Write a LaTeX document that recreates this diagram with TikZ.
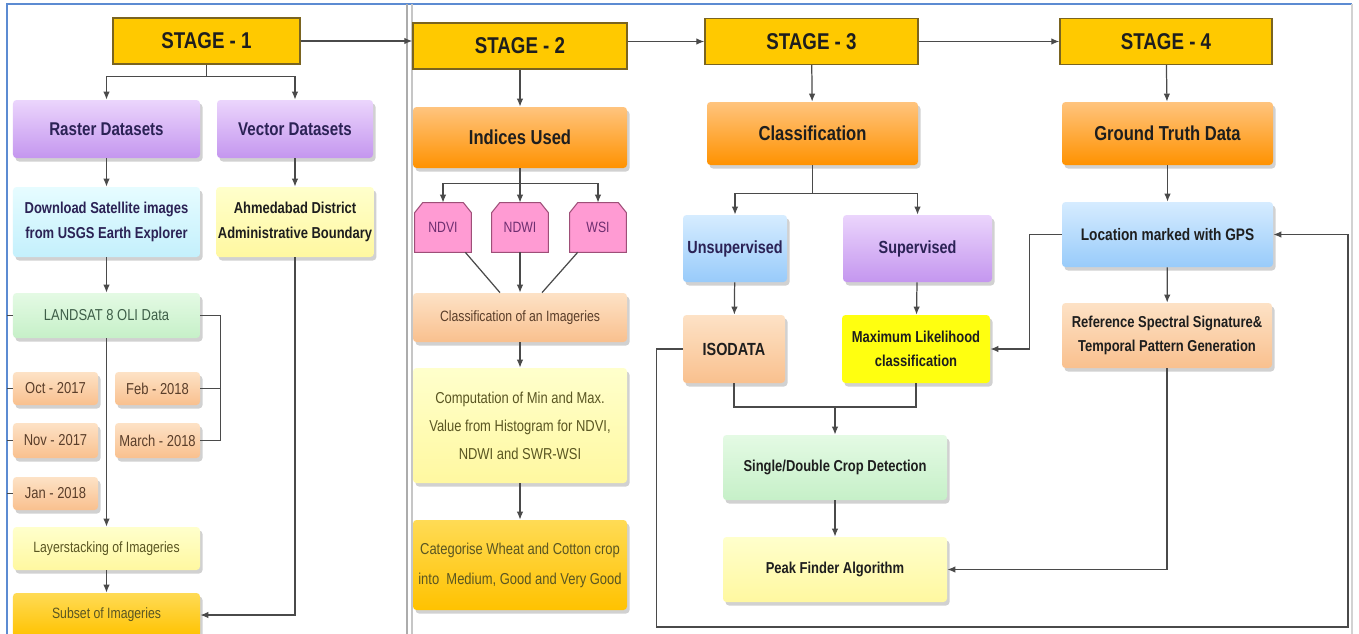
\documentclass[tikz,border=0pt]{standalone}
\usepackage{fontspec}
\setmainfont{Liberation Sans}[FakeStretch=0.82]
\usetikzlibrary{arrows.meta, calc, shadows, backgrounds}
\definecolor{stageGold}{HTML}{FFC900}
\definecolor{stageEdge}{HTML}{7A6420}
\definecolor{violetTop}{HTML}{EBD5FC}
\definecolor{violetBot}{HTML}{C496EF}
\definecolor{cyanTop}{HTML}{E6FCFF}
\definecolor{cyanBot}{HTML}{C4F0FC}
\definecolor{creamTop}{HTML}{FFFFCC}
\definecolor{creamBot}{HTML}{FFF8A0}
\definecolor{mintTop}{HTML}{E4FAE4}
\definecolor{mintBot}{HTML}{C6F0C8}
\definecolor{peachTop}{HTML}{FDE2C6}
\definecolor{peachBot}{HTML}{F9C08E}
\definecolor{orangeTop}{HTML}{FFC47E}
\definecolor{orangeBot}{HTML}{FF9200}
\definecolor{goldTop}{HTML}{FFDB55}
\definecolor{goldBot}{HTML}{FFC200}
\definecolor{skyTop}{HTML}{D6ECFF}
\definecolor{skyBot}{HTML}{98CBFA}
\definecolor{pinkFill}{HTML}{FF9BD3}
\definecolor{pinkEdge}{HTML}{9E4F78}
\definecolor{lemon}{HTML}{FFFF10}
\definecolor{inkDark}{HTML}{1E1E1E}
\definecolor{inkNavy}{HTML}{2B2255}
\definecolor{inkGreen}{HTML}{3E5E48}
\definecolor{inkBrown}{HTML}{5A3E2A}
\definecolor{inkOlive}{HTML}{5A5622}
\definecolor{inkPink}{HTML}{6E2E70}
\definecolor{frameBlue}{HTML}{5C8BD2}
\definecolor{wire}{HTML}{4A4A4A}

\begin{document}
\begin{tikzpicture}[x=0.2mm, y=-0.2mm,
    stagefont/.style={font=\fontsize{13}{15}\selectfont\bfseries},
    headfont/.style={font=\fontsize{11.5}{13.5}\selectfont\bfseries},
    boldtxt/.style={font=\fontsize{9}{14}\selectfont\bfseries},
    plaintxt/.style={font=\fontsize{8.5}{10.5}\selectfont},
    shade/.style={drop shadow={shadow xshift=0.5mm, shadow yshift=-0.7mm,
                  fill=black!45, opacity=0.4}},
    stagebox/.style={rectangle, draw=stageEdge, line width=0.8pt,
                     fill=stageGold, stagefont, text=inkDark,
                     minimum height=9.2mm},
    card/.style={rectangle, rounded corners=2pt, align=center,
                 inner sep=1pt, shade},
    violet/.style={card, top color=violetTop, bottom color=violetBot},
    cyan/.style={card, top color=cyanTop, bottom color=cyanBot},
    cream/.style={card, top color=creamTop, bottom color=creamBot},
    mint/.style={card, top color=mintTop, bottom color=mintBot},
    peach/.style={card, top color=peachTop, bottom color=peachBot},
    orange/.style={card, top color=orangeTop, bottom color=orangeBot,
                   headfont, text=inkDark},
    gold/.style={card, top color=goldTop, bottom color=goldBot},
    sky/.style={card, top color=skyTop, bottom color=skyBot},
    index/.style={rectangle, plaintxt, text=inkPink,
                  minimum width=11.2mm, minimum height=9.8mm, inner sep=1pt},
    indexshape/.style={draw=pinkEdge, fill=pinkFill, line width=0.6pt},
    conn/.style={draw=wire, line width=0.7pt},
    arr/.style={conn, -{Latex[length=1.6mm,width=1.3mm]}},
    ]

\useasboundingbox (0,0) rectangle (1359,633);
\clip (0,0) rectangle (1359,633);

% ------------------------------------------------------------------
% Frame and stage divider
% ------------------------------------------------------------------
\draw[frameBlue, line width=1pt] (7,640) -- (7,4) -- (1352,4);
\draw[gray!35, line width=0.8pt] (1352,4) -- (1352,640);
\draw[gray!65, line width=0.9pt] (407,4) -- (407,640);
\draw[gray!45, line width=0.6pt] (412,4) -- (412,640);
\coordinate (frameL) at (7,0);

% ------------------------------------------------------------------
% Stage 1
% ------------------------------------------------------------------
\node[stagebox, minimum width=37.4mm] (s1) at (206.5,41) {STAGE - 1};
\node[violet, font=\fontsize{10.5}{12.5}\selectfont\bfseries,
      text=inkNavy, minimum width=37.4mm, minimum height=11.6mm]
  (raster) at (106.5,129) {Raster Datasets};
\node[violet, font=\fontsize{10.5}{12.5}\selectfont\bfseries,
      text=inkNavy, minimum width=31.2mm, minimum height=11.6mm]
  (vector) at (295,129) {Vector Datasets};
\node[cyan, boldtxt, text=inkNavy, minimum width=37.4mm, minimum height=14mm]
  (download) at (106.5,222) {Download Satellite images\\from USGS Earth Explorer};
\node[cream, boldtxt, text=inkDark, minimum width=31.2mm, minimum height=14mm]
  (ahmed) at (295,222) {Ahmedabad District\\Administrative Boundary};
\node[mint, font=\fontsize{9}{11}\selectfont, text=inkGreen,
      minimum width=37.4mm, minimum height=9mm]
  (landsat) at (106.5,315.5) {LANDSAT 8 OLI Data};

% Months
\node[peach, font=\fontsize{9}{11}\selectfont, text=inkBrown,
      minimum width=17mm, minimum height=6.6mm] (oct) at (55.5,388.5) {Oct - 2017};
\node[peach, font=\fontsize{9}{11}\selectfont, text=inkBrown,
      minimum width=17mm, minimum height=6.6mm] (feb) at (157.5,388.5) {Feb - 2018};
\node[peach, font=\fontsize{9}{11}\selectfont, text=inkBrown,
      minimum width=17mm, minimum height=7mm] (nov) at (55.5,440.5) {Nov - 2017};
\node[peach, font=\fontsize{9}{11}\selectfont, text=inkBrown,
      minimum width=17mm, minimum height=7mm] (march) at (157.5,440.5) {March - 2018};
\node[peach, font=\fontsize{9}{11}\selectfont, text=inkBrown,
      minimum width=17mm, minimum height=6.6mm] (jan) at (55.5,493.5) {Jan - 2018};

\node[cream, plaintxt, text=inkOlive, minimum width=37.4mm, minimum height=8.6mm]
  (layer) at (106.5,548.5) {Layerstacking of Imageries};
\node[gold, plaintxt, text=inkOlive, minimum width=37.4mm, minimum height=8.8mm]
  (subset) at (106.5,615) {Subset of Imageries};

% ------------------------------------------------------------------
% Stage 2
% ------------------------------------------------------------------
\node[stagebox, minimum width=42.8mm] (s2) at (520,46) {STAGE - 2};
\node[orange, minimum width=42.8mm, minimum height=12.2mm]
  (indices) at (520,137.5) {Indices Used};
\node[index] (ndvi) at (443,227.5) {NDVI};
\node[index] (ndwi) at (520,227.5) {NDWI};
\node[index] (wsi) at (598,227.5) {WSI};
% index tags: chamfered top corners, drawn behind their labels
\begin{scope}[on background layer]
\fill[white] (0,0) rectangle (1359,633);
\foreach \n in {ndvi,ndwi,wsi}
  \draw[indexshape] (\n.south west) -- ($(\n.north west)+(0,10)$)
    -- ($(\n.north west)+(8,0)$) -- ($(\n.north east)+(-8,0)$)
    -- ($(\n.north east)+(0,10)$) -- (\n.south east) -- cycle;
\end{scope}
\node[peach, plaintxt, text=inkBrown, minimum width=42.8mm, minimum height=9.8mm]
  (clsimg) at (520,317.5) {Classification of an Imageries};
\node[cream, font=\fontsize{9}{16}\selectfont, text=inkOlive,
      minimum width=42.8mm, minimum height=23mm]
  (comput) at (520,425.5)
  {Computation of Min and Max.\\Value from Histogram for NDVI,\\NDWI and SWR-WSI};
\node[gold, font=\fontsize{9}{17}\selectfont, text=inkOlive,
      minimum width=42.8mm, minimum height=18mm]
  (categ) at (520,565)
  {Categorise Wheat and Cotton crop\\into\ \ Medium, Good and Very Good};

% ------------------------------------------------------------------
% Stage 3
% ------------------------------------------------------------------
\node[stagebox, minimum width=42.6mm] (s3) at (811.5,41.5) {STAGE - 3};
\node[orange, minimum width=42.2mm, minimum height=12.6mm]
  (classif) at (812.5,133.5) {Classification};
\node[sky, font=\fontsize{10}{12}\selectfont\bfseries, text=inkNavy,
      minimum width=20.8mm, minimum height=13.4mm]
  (unsup) at (735,248.5) {Unsupervised};
\node[violet, font=\fontsize{10}{12}\selectfont\bfseries, text=inkNavy,
      minimum width=29.8mm, minimum height=13.4mm]
  (sup) at (917.5,248.5) {Supervised};
\node[peach, font=\fontsize{10}{12}\selectfont\bfseries, text=inkDark,
      minimum width=20.4mm, minimum height=13.6mm]
  (isodata) at (734,349) {ISODATA};
\node[card, fill=lemon, boldtxt, text=inkDark,
      minimum width=29.6mm, minimum height=13.6mm]
  (maxlik) at (916,349) {Maximum Likelihood\\classification};
\node[mint, boldtxt, text=inkDark, minimum width=44.8mm, minimum height=13mm]
  (single) at (835,467.5) {Single/Double Crop Detection};
\node[cream, boldtxt, text=inkDark, minimum width=44.8mm, minimum height=13mm]
  (peak) at (835,569.5) {Peak Finder Algorithm};

% ------------------------------------------------------------------
% Stage 4
% ------------------------------------------------------------------
\node[stagebox, minimum width=42.4mm] (s4) at (1166,41.5) {STAGE - 4};
\node[orange, minimum width=42.2mm, minimum height=12.6mm]
  (ground) at (1167.5,133.5) {Ground Truth Data};
\node[sky, font=\fontsize{9.5}{12}\selectfont\bfseries, text=inkDark,
      minimum width=42.2mm, minimum height=13mm]
  (location) at (1167.5,234.5) {Location marked with GPS};
\node[peach, boldtxt, text=inkDark, minimum width=42mm, minimum height=13mm]
  (refer) at (1167,335.5)
  {Reference Spectral Signature\&\\Temporal Pattern Generation};

% ------------------------------------------------------------------
% Connectors
% ------------------------------------------------------------------
% stage to stage
\draw[arr] (s1.east) -- (s1.east -| s2.west);
\draw[arr] (s2.east |- s3.west) -- (s3.west);
\draw[arr] (s3.east) -- (s4.west);

% stage 1
\draw[arr] (s1.south) -- ++(0,12) -| (raster.north);
\draw[arr] (s1.south) -- ++(0,12) -| (vector.north);
\draw[arr] (raster) -- (download);
\draw[arr] (vector) -- (ahmed);
\draw[arr] (download) -- (landsat);
\draw[arr] (landsat) -- (layer);
\draw[arr] (layer) -- (subset);
\draw[conn] (landsat.east) -- ++(20,0) |- (march.east);
\draw[conn] (feb.east) -- ++(20,0);
\draw[arr] (ahmed.south) |- (subset.east);
\foreach \n in {landsat,oct,nov,jan}
  \draw[conn] (\n.west) -- (\n.west -| frameL);

% stage 2
\draw[arr] (s2) -- (indices);
\draw[conn] (indices.south) -- ++(0,15) coordinate (isplit);
\draw[arr] (isplit) -| (ndvi.north);
\draw[arr] (isplit) -| (wsi.north);
\draw[arr] (isplit) -- (ndwi.north);
\draw[conn] ($(ndvi.south east)+(-6,0)$) -- ($(clsimg.north)+(-20,0)$);
\draw[conn] ($(wsi.south west)+(8,0)$) -- ($(clsimg.north)+(22,0)$);
\draw[arr] (ndwi.south) -- (clsimg.north);
\draw[arr] (clsimg) -- (comput);
\draw[arr] (comput) -- (categ);

% stage 3
\draw[arr] (s3) -- (classif);
\draw[arr] (classif.south) -- ++(0,28) -| (unsup.north);
\draw[arr] (classif.south) -- ++(0,28) -| (sup.north);
\draw[arr] (unsup) -- (isodata);
\draw[arr] (sup) -- (maxlik);
\coordinate (merge) at (835,407);
\draw[conn] (isodata.south) |- (merge) -| (maxlik.south);
\draw[arr] (merge) -- (single.north);
\draw[arr] (single) -- (peak);

% stage 4
\draw[arr] (s4) -- (ground);
\draw[arr] (ground) -- (location);
\draw[arr] (location) -- (refer);
\draw[arr] (location.west) -- ++(-32,0) |- (maxlik.east);
\draw[arr] (refer.south) |- (peak.east);
\coordinate (loopcorner) at (1348,627);
\draw[arr] (isodata.west) -- ++(-26,0) |- (loopcorner) |- (location.east);

\end{tikzpicture}
\end{document}
